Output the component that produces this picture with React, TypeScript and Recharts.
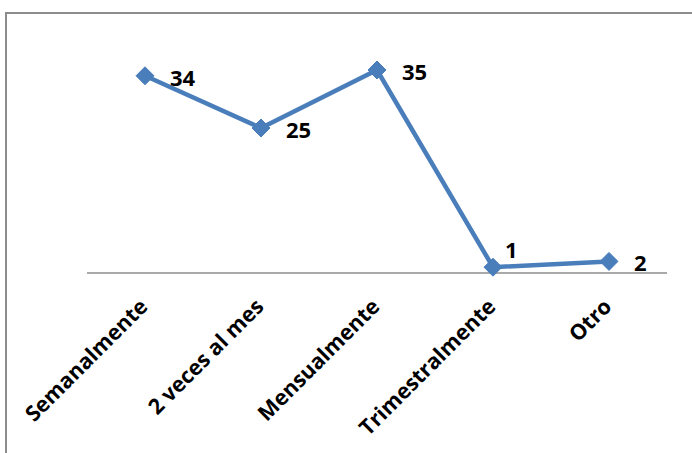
import React from "react";
import { LineChart, Line, XAxis, YAxis, LabelList } from "recharts";

const categories: string[] = ["Semanalmente", "2 veces al mes", "Mensualmente", "Trimestralmente", "Otro"];
const values: number[] = [34, 25, 35, 1, 2];

const data = categories.map((name, i) => ({ name, value: values[i] }));

const LINE_COLOR = "#4a7ebb";
const FONT = "'Open Sans', 'DejaVu Sans', sans-serif";

const Diamond = (props: any) => {
  const { cx, cy } = props;
  if (cx == null || cy == null) return null;
  const r = 9;
  return (
    <path
      d={`M${cx},${cy - r} L${cx + r},${cy} L${cx},${cy + r} L${cx - r},${cy} Z`}
      fill={LINE_COLOR}
      stroke={LINE_COLOR}
      strokeWidth={1}
    />
  );
};

const CategoryTick = (props: any) => {
  const { x, y, payload } = props;
  const tx = x + 4;
  const ty = y + 27;
  return (
    <text
      x={tx}
      y={ty}
      transform={`rotate(-45, ${tx}, ${ty})`}
      textAnchor="end"
      fontFamily={FONT}
      fontWeight={700}
      fontSize={21.5}
      fill="#000"
    >
      {payload.value}
    </text>
  );
};

const ValueLabel = (props: any) => {
  const { x, y, value, index } = props;
  // the label for the low point near the axis sits above the marker
  const above = index === 3;
  const lx = above ? x + 12 : x + 25;
  const ly = above ? y - 9 : y + 10;
  return (
    <text
      x={lx}
      y={ly}
      fontFamily={FONT}
      fontWeight={700}
      fontSize={22}
      fill="#000"
    >
      {value}
    </text>
  );
};

export default function App() {
  return (
    <div
      style={{
        position: "absolute",
        left: 0,
        top: 0,
        width: 692,
        height: 453,
        background: "#fff",
        overflow: "hidden",
      }}
    >
      <div
        style={{
          position: "absolute",
          left: 5,
          top: 12,
          width: 700,
          height: 460,
          borderLeft: "2px solid #8c8c8c",
          borderTop: "2px solid #8c8c8c",
        }}
      />
      <div style={{ position: "absolute", left: 0, top: 0 }}>
        <LineChart
          width={692}
          height={453}
          data={data}
          margin={{ top: 41, right: 25, bottom: 0, left: 87 }}
        >
          <XAxis
            dataKey="name"
            axisLine={{ stroke: "#8c8c8c", strokeWidth: 1.5 }}
            tickLine={false}
            tick={<CategoryTick />}
            interval={0}
            height={180}
            padding={{ left: 58, right: 58 }}
          />
          <YAxis hide domain={[0, 40]} width={0} />
          <Line
            type="linear"
            dataKey="value"
            stroke={LINE_COLOR}
            strokeWidth={4.5}
            dot={<Diamond />}
            activeDot={false}
            isAnimationActive={false}
          >
            <LabelList dataKey="value" content={<ValueLabel />} />
          </Line>
        </LineChart>
      </div>
    </div>
  );
}
